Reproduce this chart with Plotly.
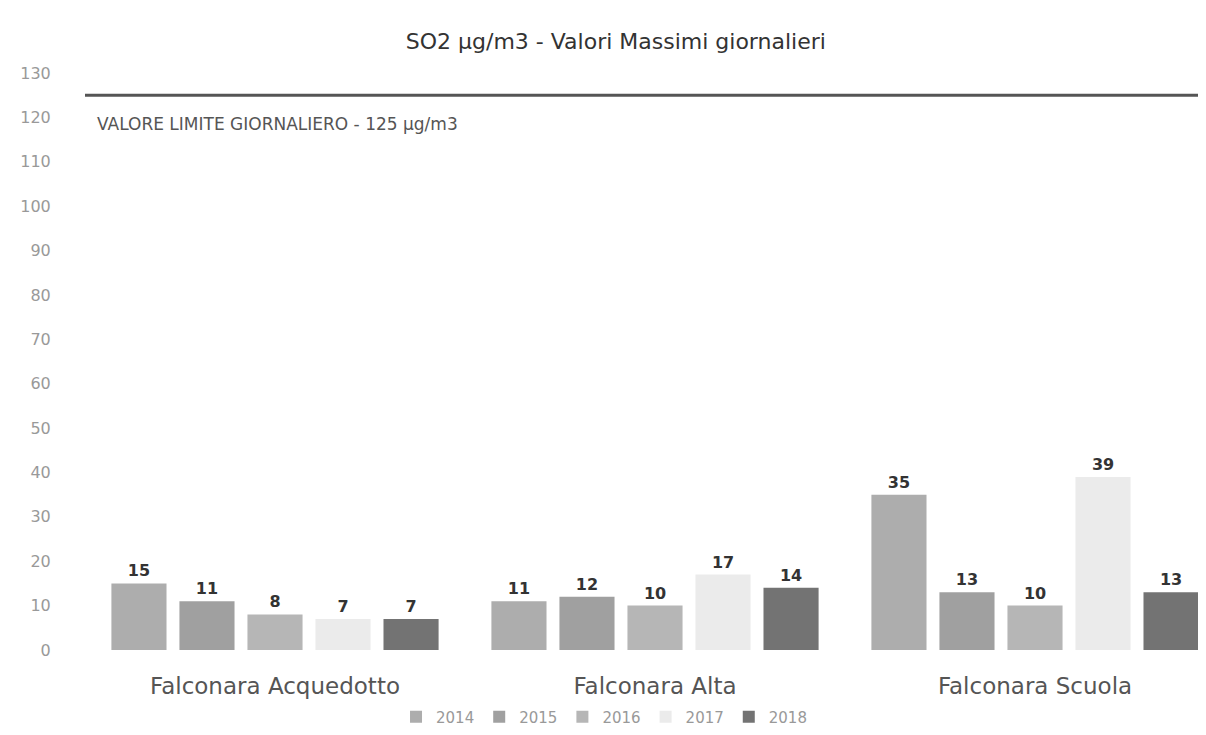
import plotly.graph_objects as go

categories = ["Falconara Acquedotto", "Falconara Alta", "Falconara Scuola"]
years = ["2014", "2015", "2016", "2017", "2018"]
values = {
    "2014": [15, 11, 35],
    "2015": [11, 12, 13],
    "2016": [8, 10, 10],
    "2017": [7, 17, 39],
    "2018": [7, 14, 13],
}
colors = {
    "2014": "#adadad",
    "2015": "#a0a0a0",
    "2016": "#b6b6b6",
    "2017": "#ebebeb",
    "2018": "#737373",
}
limit_value = 125
limit_label = "VALORE LIMITE GIORNALIERO - 125 µg/m3"
title_text = "SO2 µg/m3 - Valori Massimi giornalieri"
y_ticks = list(range(0, 131, 10))

FONT = "DejaVu Sans, sans-serif"

fig = go.Figure()
for y in years:
    fig.add_trace(go.Bar(
        name=y, x=categories, y=values[y],
        marker=dict(color=colors[y], line=dict(width=0)),
        text=[str(v) for v in values[y]], textposition="outside",
        textfont=dict(family=FONT, size=16, color="#333333"),
        texttemplate="<b>%{text}</b>",
        cliponaxis=False,
    ))

fig.add_shape(type="line", xref="paper", yref="y", x0=0, x1=1,
              y0=limit_value, y1=limit_value,
              line=dict(color="#555555", width=3))
fig.add_annotation(xref="paper", yref="y", x=0.009, y=118.5,
                   text=limit_label, showarrow=False, xanchor="left",
                   font=dict(family=FONT, size=17, color="#555555"))

fig.update_layout(
    width=1206, height=735,
    paper_bgcolor="white", plot_bgcolor="white",
    margin=dict(l=77, r=8, t=65, b=93),
    barmode="group", bargap=0.105, bargroupgap=0.19,
    title=dict(text=title_text, x=0.504, xref="container", y=0.955, yanchor="middle",
               font=dict(family=FONT, size=22, color="#333333")),
    font=dict(family=FONT),
    legend=dict(orientation="h", x=0.463, xanchor="center", y=-0.116, yanchor="middle",
                font=dict(size=15, color="#999999"), itemwidth=30,
                traceorder="normal"),
    xaxis=dict(range=[-0.5, 2.45], showgrid=False, showline=False,
               ticks="outside", ticklen=15, tickcolor="rgba(0,0,0,0)",
               tickfont=dict(size=23, color="#555555"), automargin=False),
    yaxis=dict(range=[0, 130], tickvals=y_ticks, showgrid=False, zeroline=False,
               showline=False, ticks="outside", ticklen=30,
               tickcolor="rgba(0,0,0,0)", automargin=False,
               tickfont=dict(size=16, color="#999999")),
)

fig.write_html("out.html")
